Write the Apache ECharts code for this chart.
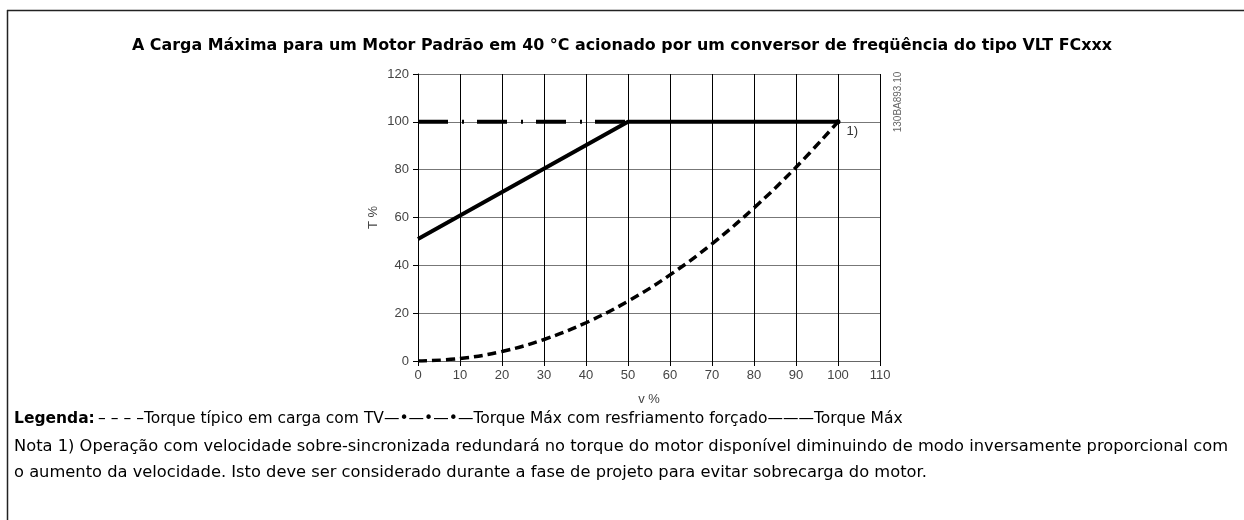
<!DOCTYPE html>
<html>
<head>
<meta charset="utf-8">
<script src="https://cdn.jsdelivr.net/npm/echarts@6/dist/echarts.min.js"></script>
<style>
  html, body { margin: 0; padding: 0; background: #fff; }
  #chart { width: 1244px; height: 520px; }
</style>
</head>
<body>
<div id="chart"></div>
<script>
// Speed (v %) and torque (T %) curves
const speedTicks = [0, 10, 20, 30, 40, 50, 60, 70, 80, 90, 100, 110];
const torqueTicks = [0, 20, 40, 60, 80, 100, 120];

// Typical torque with variable-torque (TV) load
const typicalSpeed  = [0, 10, 20, 30, 40, 50, 60, 70, 80, 90, 100];
const typicalTorque = [0, 1, 4, 9, 16, 25, 36, 49, 64, 81, 100];

// Max torque with forced cooling
const forcedSpeed  = [0, 50];
const forcedTorque = [100, 100];

// Max torque
const maxSpeed  = [0, 50, 100];
const maxTorque = [51, 100, 100];

const titleText = 'A Carga Máxima para um Motor Padrão em 40 °C acionado por um conversor de freqüência do tipo VLT FCxxx';
const legendText = '– – – –Torque típico em carga com TV—•—•—•—Torque Máx com resfriamento forçado———Torque Máx';
const noteLine1 = 'Nota 1) Operação com velocidade sobre-sincronizada redundará no torque do motor disponível diminuindo de modo inversamente proporcional com';
const noteLine2 = 'o aumento da velocidade. Isto deve ser considerado durante a fase de projeto para evitar sobrecarga do motor.';
const drawingCode = '130BA893.10';

const pairs = (xs, ys) => xs.map((x, i) => [x, ys[i]]);

const textFont = '"DejaVu Sans", Verdana, sans-serif';
const axisFont = '"Liberation Sans", Arial, sans-serif';

const chart = echarts.init(document.getElementById('chart'), null, { renderer: 'canvas' });

chart.setOption({
  animation: false,
  backgroundColor: '#ffffff',
  title: {
    text: titleText,
    left: 'center',
    top: 33,
    textStyle: { fontFamily: textFont, fontWeight: 'bold', fontSize: 15.9, color: '#000' }
  },
  grid: { left: 418, right: 364, top: 74, bottom: 159, containLabel: false },
  xAxis: {
    type: 'value',
    min: 0, max: 110, interval: 10,
    name: 'v %',
    nameLocation: 'middle',
    nameGap: 32,
    nameTextStyle: { fontFamily: axisFont, fontSize: 13, color: '#444' },
    axisLine: { show: true, lineStyle: { color: '#666', width: 1 } },
    axisTick: { show: true, length: 5, lineStyle: { color: '#000' } },
    axisLabel: { fontFamily: axisFont, fontSize: 13, color: '#444', margin: 8,
                 formatter: v => String(v) },
    splitLine: { show: true, lineStyle: { color: '#000', width: 1 } }
  },
  yAxis: {
    type: 'value',
    min: 0, max: 120, interval: 20,
    name: 'T %',
    nameLocation: 'middle',
    nameGap: 38,
    nameRotate: 90,
    nameTextStyle: { fontFamily: axisFont, fontSize: 13, color: '#444' },
    axisLine: { show: true, lineStyle: { color: '#000', width: 1 } },
    axisTick: { show: true, length: 5, lineStyle: { color: '#000' } },
    axisLabel: { fontFamily: axisFont, fontSize: 13, color: '#444', margin: 9 },
    splitLine: { show: true, lineStyle: { color: '#777', width: 1 } }
  },
  series: [
    {
      name: 'Torque típico em carga com TV',
      type: 'line',
      data: pairs(typicalSpeed, typicalTorque),
      smooth: 0.4,
      showSymbol: false,
      lineStyle: { color: '#000', width: 3.5, type: [9, 5] },
      z: 3
    },
    {
      name: 'Torque Máx com resfriamento forçado',
      type: 'line',
      data: pairs(forcedSpeed, forcedTorque),
      showSymbol: false,
      lineStyle: { color: '#000', width: 4, type: [30, 14, 2, 13] },
      z: 4
    },
    {
      name: 'Torque Máx',
      type: 'line',
      data: pairs(maxSpeed, maxTorque).map((p, i, arr) => i === arr.length - 1
        ? { value: p, symbol: 'circle', symbolSize: 5,
            label: { show: true, formatter: '1)', position: 'right', distance: 6, offset: [0, 10],
                     fontFamily: axisFont, fontSize: 13, color: '#333' } }
        : { value: p, symbol: 'none' }),
      showSymbol: true,
      itemStyle: { color: '#000' },
      lineStyle: { color: '#000', width: 4 },
      z: 5
    }
  ],
  graphic: [
    // Frame around the figure
    { type: 'line', shape: { x1: 7, y1: 10.5, x2: 1244, y2: 10.5 }, style: { stroke: '#222', lineWidth: 1.5 } },
    { type: 'line', shape: { x1: 7.5, y1: 10, x2: 7.5, y2: 520 }, style: { stroke: '#222', lineWidth: 1.5 } },
    // Drawing reference code beside the plot
    { type: 'text', x: 898, y: 102, rotation: Math.PI / 2,
      style: { text: drawingCode, fontFamily: axisFont, fontSize: 10, fill: '#666',
               align: 'center', verticalAlign: 'middle' } },
    // Legend line
    { type: 'text', left: 14, top: 411,
      style: {
        text: '{b|Legenda:} {n|' + legendText + '}',
        rich: {
          b: { fontFamily: textFont, fontWeight: 'bold', fontSize: 15.5, fill: '#000' },
          n: { fontFamily: textFont, fontSize: 15.5, fill: '#000' }
        }
      } },
    // Notes
    { type: 'text', left: 14, top: 439,
      style: { text: noteLine1, fontFamily: textFont, fontSize: 16.3, fill: '#000' } },
    { type: 'text', left: 14, top: 465,
      style: { text: noteLine2, fontFamily: textFont, fontSize: 16.3, fill: '#000' } }
  ]
});
</script>
</body>
</html>
